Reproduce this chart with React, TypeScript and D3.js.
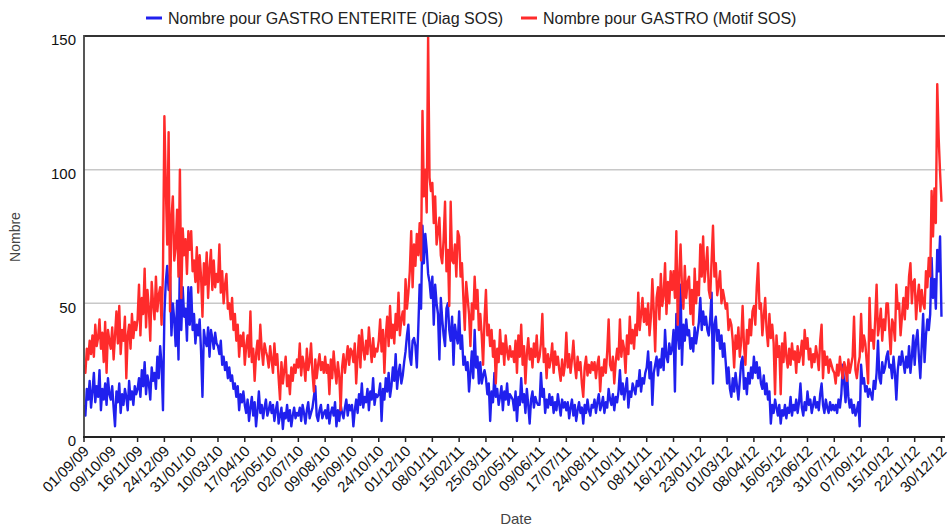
import React from 'react';
import * as d3 from 'd3';

// one value every 2 days starting 01/09/09, one line per 38-day tick interval
const diagA = [
  12, 8, 18, 14, 21, 11, 17, 24, 13, 19, 15, 25, 10, 18, 14, 20, 12, 22, 16,
  14, 19, 11, 4, 17, 13, 20, 9, 16, 12, 18, 15, 10, 21, 14, 17, 12, 19, 16,
  18, 22, 15, 25, 19, 28, 16, 23, 20, 14, 26, 21, 24, 18, 30, 22, 34, 27, 10,
  46, 58, 64, 55, 60, 38, 50, 44, 34, 51, 29, 66, 40, 56, 45, 48, 36, 56, 42,
  56, 40, 46, 35, 42, 38, 44, 32, 15, 40, 36, 34, 41, 30, 40, 37, 33, 39, 35,
  34, 31, 36, 27, 30, 25, 28, 22, 26, 21, 23, 18, 20, 15, 19, 10, 16, 13, 17,
  12, 9, 14, 6, 11, 15, 8, 13, 4, 10, 17, 9, 12, 7, 11, 14, 8, 10, 13,
  9, 12, 6, 10, 13, 5, 8, 11, 3, 9, 7, 12, 6, 10, 4, 8, 11, 7, 9,
];
const diagB = [
  8, 11, 6, 12, 9, 5, 10, 13, 7, 9, 11, 15, 19, 8, 6, 10, 12, 7, 9,
  10, 7, 12, 5, 9, 11, 8, 13, 4, 10, 6, 12, 9, 7, 11, 14, 8, 12, 10,
  12, 4, 10, 14, 9, 16, 12, 20, 11, 15, 13, 18, 10, 17, 14, 22, 12, 16, 15,
  16, 20, 6, 18, 14, 22, 17, 24, 15, 19, 26, 21, 31, 18, 24, 27, 20, 23, 28,
  32, 38, 42, 30, 27, 36, 37, 34, 26, 40, 57, 48, 79, 65, 76, 70, 61, 58, 52,
  60, 42, 57, 50, 46, 29, 52, 44, 38, 34, 48, 50, 40, 36, 45, 27, 42, 38, 35,
  47, 33, 38, 27, 30, 25, 28, 17, 24, 32, 22, 40, 26, 30, 20, 28, 20, 23, 25,
  22, 16, 20, 6, 17, 13, 24, 15, 18, 12, 15, 19, 10, 17, 14, 20, 12, 16, 15,
];
const diagC = [
  14, 10, 17, 6, 15, 12, 22, 13, 16, 9, 18, 12, 5, 14, 17, 11, 15, 13, 12,
  12, 24, 15, 18, 9, 14, 11, 16, 12, 15, 9, 13, 10, 16, 12, 8, 14, 11, 13,
  10, 13, 7, 11, 14, 8, 12, 6, 10, 13, 9, 11, 5, 12, 9, 14, 10, 8, 12,
  11, 14, 9, 13, 16, 10, 12, 15, 9, 13, 11, 18, 14, 12, 16, 10, 15, 13, 17,
  25, 16, 20, 14, 18, 22, 11, 17, 15, 20, 18, 16, 21, 19, 25, 17, 22, 20, 24,
  26, 32, 22, 28, 12, 24, 27, 30, 23, 29, 26, 33, 25, 40, 30, 28, 35, 31, 33,
  40, 17, 46, 38, 33, 57, 27, 42, 36, 44, 38, 40, 33, 37, 32, 41, 35, 39, 43,
  52, 40, 47, 42, 45, 40, 38, 44, 54, 20, 42, 45, 36, 40, 33, 38, 30, 35, 28,
];
const diagD = [
  20, 26, 18, 15, 22, 17, 24, 19, 14, 21, 28, 30, 18, 22, 16, 24, 20, 26, 22,
  30, 24, 28, 22, 26, 20, 18, 23, 16, 20, 14, 17, 5, 12, 9, 14, 11, 8, 12,
  5, 10, 8, 12, 7, 11, 9, 15, 8, 12, 10, 14, 9, 13, 20, 11, 8, 13, 10,
  17, 12, 14, 9, 12, 15, 11, 13, 10, 16, 20, 12, 9, 14, 11, 9, 13, 10, 12,
  10, 12, 9, 14, 11, 16, 27, 20, 13, 24, 15, 11, 14, 9, 12, 8, 10, 13, 4,
  27, 20, 22, 17, 19, 15, 18, 16, 14, 21, 18, 24, 36, 22, 20, 28, 24, 26, 30,
  32, 26, 27, 22, 30, 24, 14, 25, 30, 27, 32, 28, 24, 30, 26, 34, 24, 30, 38,
  27, 36, 40, 30, 22, 34, 46, 28, 38, 44, 40, 46, 67, 52, 59, 48, 70, 62, 75,
  45,
];

const motifA = [
  27, 24, 33, 29, 36, 31, 38, 30, 42, 34, 37, 44, 33, 39, 28, 43, 24, 40, 36,
  33, 41, 29, 38, 47, 35, 49, 31, 40, 36, 45, 22, 38, 42, 33, 46, 37, 43, 40,
  44, 57, 38, 52, 46, 63, 41, 55, 48, 36, 58, 50, 44, 60, 47, 53, 56, 42, 62,
  120, 94, 72, 114, 47, 82, 90, 66, 71, 85, 60, 100, 52, 78, 68, 74, 61, 77, 70,
  77, 62, 66, 58, 71, 54, 68, 60, 45, 65, 57, 69, 52, 63, 70, 55, 66, 56, 61,
  58, 72, 54, 62, 50, 57, 61, 48, 50, 44, 52, 40, 46, 36, 42, 30, 38, 34, 39,
  27, 34, 38, 30, 47, 28, 33, 21, 31, 36, 29, 42, 33, 27, 35, 32, 30, 26, 34,
  29, 24, 35, 27, 31, 22, 14, 28, 20, 25, 30, 19, 23, 16, 26, 21, 27, 24, 29,
];
const motifB = [
  26, 35, 23, 30, 27, 21, 33, 25, 28, 35, 24, 17, 29, 22, 27, 31, 25, 28, 24,
  30, 24, 27, 16, 29, 22, 32, 25, 20, 28, 23, 10, 26, 31, 24, 29, 34, 27, 33,
  32, 28, 35, 20, 30, 38, 26, 40, 33, 29, 36, 31, 41, 34, 28, 37, 30, 33, 32,
  36, 44, 32, 40, 24, 38, 45, 34, 49, 37, 42, 35, 46, 40, 54, 38, 44, 47, 42,
  59, 48, 54, 62, 77, 56, 72, 64, 76, 68, 80, 66, 122, 90, 100, 84, 150, 97, 92,
  95, 80, 90, 72, 77, 82, 68, 65, 74, 88, 62, 70, 49, 88, 66, 65, 72, 60, 77,
  75, 60, 65, 52, 40, 58, 52, 46, 34, 50, 44, 60, 48, 55, 40, 46, 38, 27, 44,
  55, 38, 42, 34, 40, 30, 36, 20, 33, 28, 40, 31, 35, 27, 38, 32, 29, 34, 30,
];
const motifC = [
  32, 28, 36, 24, 38, 30, 42, 27, 34, 20, 31, 37, 29, 33, 26, 35, 30, 38, 28,
  30, 35, 46, 28, 33, 22, 31, 26, 29, 35, 24, 32, 27, 30, 25, 21, 29, 23, 27,
  39, 26, 31, 24, 29, 36, 27, 22, 30, 25, 28, 20, 15, 26, 30, 23, 27, 24, 28,
  25, 28, 22, 27, 30, 17, 26, 23, 29, 24, 32, 44, 27, 25, 30, 20, 28, 33, 29,
  44, 30, 36, 33, 24, 38, 31, 45, 35, 40, 33, 42, 38, 54, 40, 46, 52, 43, 48,
  42, 50, 38, 45, 59, 47, 32, 52, 56, 44, 61, 49, 53, 65, 46, 58, 50, 62, 55,
  62, 52, 77, 42, 60, 72, 56, 48, 64, 52, 58, 60, 46, 55, 42, 63, 50, 58, 53,
  72, 60, 75, 58, 64, 71, 55, 52, 66, 79, 60, 65, 53, 57, 62, 50, 55, 52, 48,
];
const motifD = [
  50, 40, 44, 42, 36, 26, 38, 33, 41, 30, 36, 49, 34, 27, 40, 35, 44, 38, 47,
  49, 42, 56, 65, 48, 50, 38, 45, 52, 40, 34, 46, 37, 42, 35, 16, 38, 30, 34,
  16, 35, 28, 39, 30, 26, 33, 27, 35, 29, 32, 24, 34, 28, 31, 36, 27, 40, 33,
  37, 29, 33, 26, 31, 28, 34, 30, 25, 36, 42, 22, 32, 27, 30, 24, 29, 27, 25,
  24, 20, 27, 23, 30, 25, 22, 28, 26, 21, 29, 24, 27, 30, 45, 25, 22, 27, 30,
  46, 32, 38, 35, 28, 20, 52, 36, 40, 33, 44, 57, 38, 42, 48, 36, 44, 40, 50,
  50, 40, 31, 44, 42, 36, 57, 48, 50, 38, 45, 52, 44, 56, 48, 60, 65, 50, 58,
  59, 44, 52, 57, 47, 55, 50, 48, 62, 56, 67, 60, 92, 75, 93, 80, 132, 112, 99,
  88,
];

const tickLabels = [
  '01/09/09', '09/10/09', '16/11/09', '24/12/09', '31/01/10', '10/03/10', '17/04/10',
  '25/05/10', '02/07/10', '09/08/10', '16/09/10', '24/10/10', '01/12/10', '08/01/11',
  '15/02/11', '25/03/11', '02/05/11', '09/06/11', '17/07/11', '24/08/11', '01/10/11',
  '08/11/11', '16/12/11', '23/01/12', '01/03/12', '08/04/12', '16/05/12', '23/06/12',
  '31/07/12', '07/09/12', '15/10/12', '22/11/12', '30/12/12',
];
const yTicks = [0, 50, 100, 150];

const seriesNames = ['Nombre pour GASTRO ENTERITE (Diag SOS)', 'Nombre pour GASTRO (Motif SOS)'];
const seriesColors = ['#2020ee', '#ff2b2b'];

const W = 948;
const H = 526;
const FONT = '"Liberation Sans", Arial, sans-serif';

export default function App() {
  const parse = d3.utcParse('%d/%m/%y');
  const start = parse(tickLabels[0]) as Date;
  const ticks = tickLabels.map(t => parse(t) as Date);

  const diag = [...diagA, ...diagB, ...diagC, ...diagD];
  const motif = [...motifA, ...motifB, ...motifC, ...motifD];

  const x = d3.scaleTime()
    .domain([start, d3.utcDay.offset(start, 1221)])
    .range([84, 945]);
  const y = d3.scaleLinear().domain([0, 150]).range([437, 36]);

  const line = d3.line<number>()
    .x((_, i) => x(d3.utcDay.offset(start, i * 2)))
    .y(d => y(d));

  const series = [diag, motif];

  return (
    <svg width={W} height={H} style={{ position: 'absolute', left: 0, top: 0, background: '#fff' }}
      fontFamily={FONT}>
      <defs>
        <clipPath id="plot">
          <rect x={84} y={y(150)} width={945 - 84} height={y(0) - y(150)} />
        </clipPath>
      </defs>
      {yTicks.filter(t => t > 0 && t < 150).map(t => (
        <line key={t} x1={84} x2={945} y1={y(t)} y2={y(t)} stroke="#c8c8c8" strokeWidth={1.5} />
      ))}
      <g clipPath="url(#plot)">
        {series.map((s, k) => (
          <path key={k} d={line(s) || ''} fill="none" stroke={seriesColors[k]}
            strokeWidth={2.4} strokeLinejoin="round" />
        ))}
      </g>
      <line x1={84} x2={945} y1={y(150)} y2={y(150)} stroke="#333" strokeWidth={1.8} />
      <line x1={84} x2={84} y1={y(150) - 0.9} y2={y(0)} stroke="#444" strokeWidth={1.8} />
      <line x1={83} x2={945} y1={y(0)} y2={y(0)} stroke="#222" strokeWidth={2} />
      {yTicks.map(t => (
        <text key={t} x={76} y={y(t) + 4} dy="0.35em" textAnchor="end" fontSize={15} fill="#111">{t}</text>
      ))}
      {ticks.map((d, i) => (
        <g key={i}>
          <line x1={x(d)} x2={x(d)} y1={y(0)} y2={y(0) + 5} stroke="#222" strokeWidth={1.5} />
          <text transform={`translate(${x(d) + 6},${y(0) + 15}) rotate(-45)`} textAnchor="end"
            fontSize={15} fill="#111">{tickLabels[i]}</text>
        </g>
      ))}
      <text transform={`translate(20,237) rotate(-90)`} textAnchor="middle" fontSize={14} fill="#444">Nombre</text>
      <text x={516} y={524} textAnchor="middle" fontSize={15} fill="#444">Date</text>
      {seriesNames.map((n, k) => {
        const lx = k === 0 ? 146 : 521;
        return (
          <g key={k}>
            <line x1={lx} x2={lx + 16} y1={18} y2={18} stroke={seriesColors[k]} strokeWidth={3} />
            <text x={lx + 22} y={18} dy="0.35em" fontSize={16} fill="#222">{n}</text>
          </g>
        );
      })}
    </svg>
  );
}
